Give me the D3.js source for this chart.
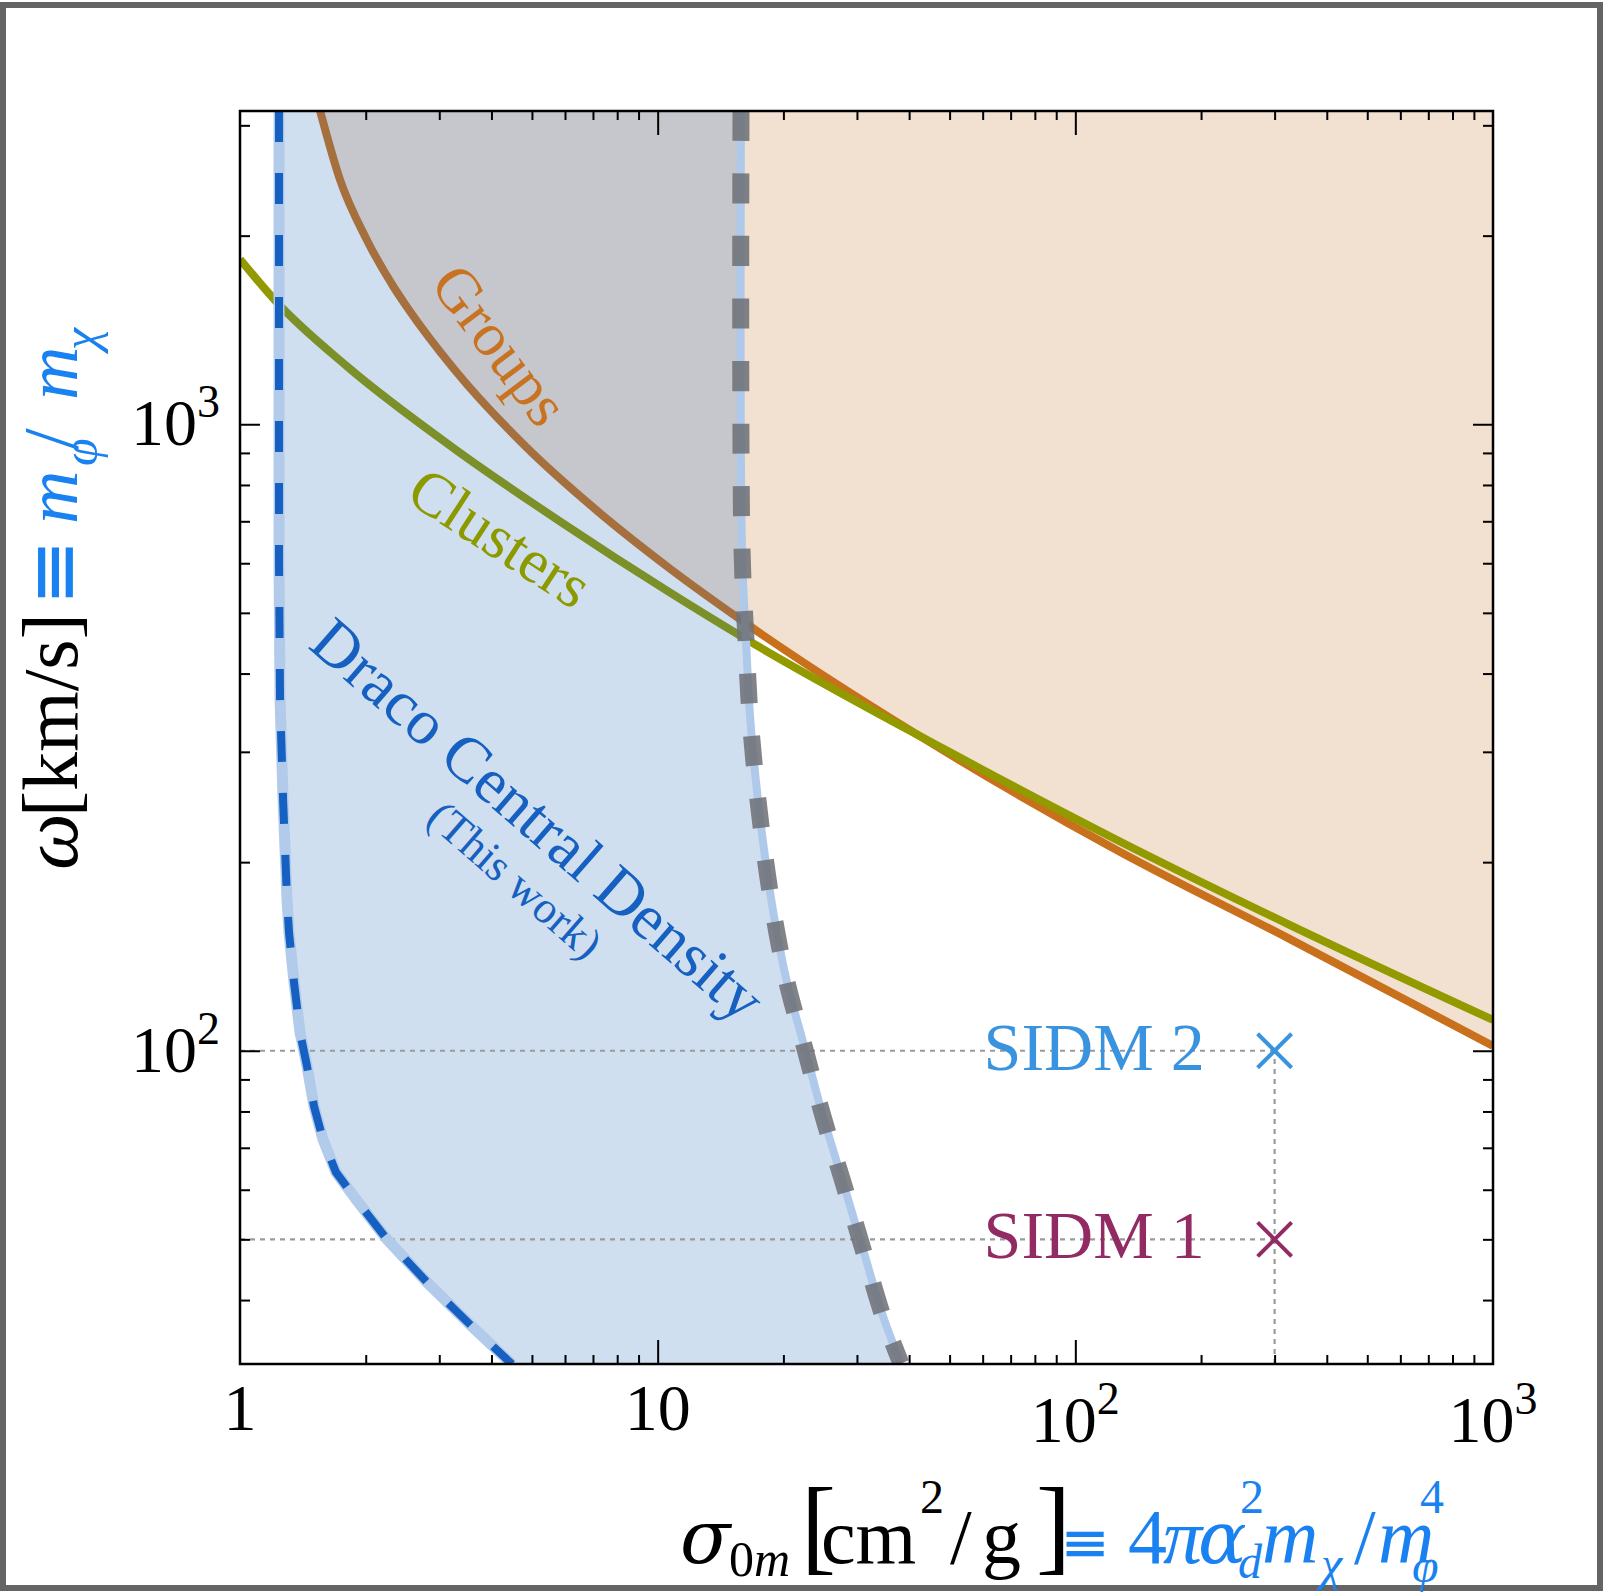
<!DOCTYPE html>
<html><head><meta charset="utf-8">
<script src="https://cdn.jsdelivr.net/npm/d3@7"></script>
<style>
html,body{margin:0;padding:0;background:#fff;}
svg{display:block;}
svg text{font-family:"Liberation Serif","Times New Roman",serif;}
</style></head>
<body>
<script>
// ---------------- data ----------------
const groupsX = [1.554, 1.735, 2.014, 2.337, 2.51, 3.253, 4.84, 7.155, 10.64, 16.27, 48.5, 125.8, 324.8, 1000];
const groupsY = [3170, 2459, 1967, 1653, 1539, 1225, 920, 728, 590, 481, 301, 209, 151, 101.8];

const clustersX = [1, 1.22, 1.804, 3.253, 5.87, 10.64, 16.27, 48.5, 125.8, 324.8, 1000];
const clustersY = [1834, 1570, 1237, 915, 698, 540, 454, 303, 217, 159, 112];

const dracoLowX = [1.24, 1.24, 1.247, 1.268, 1.296, 1.31, 1.347, 1.392, 1.447, 1.504, 1.58, 1.697, 1.896, 2.249, 2.804, 3.594, 4.48];
const dracoLowY = [3162, 600, 364, 252, 174.5, 154.6, 128.6, 107, 94.5, 81.5, 72.2, 64, 57.9, 50, 42.7, 36.3, 31.6];

const dracoHighX = [15.83, 15.92, 16.27, 16.64, 17.2, 17.97, 18.99, 20.4, 22.53, 24.88, 27.78, 31.02, 34.63, 38.24];
const dracoHighY = [3162, 631.6, 453.8, 342, 268.3, 209.7, 163.9, 128.6, 100.6, 78.6, 61.7, 48.2, 37.7, 31.7];

const sidmNames = ["SIDM 1", "SIDM 2"];
const sidmX = [300, 300];
const sidmY = [50, 100];

const xMajor = [1, 10, 100, 1000];
const xTickBase = ["1", "10", "10", "10"];
const xTickExp = ["", "", "2", "3"];
const yMajor = [100, 1000];
const yTickBase = ["10", "10"];
const yTickExp = ["2", "3"];

// ---------------- layout ----------------
const W = 1603, H = 1592;
const L = 240, R = 1493, T = 111, B = 1364;

const svg = d3.select("body").append("svg").attr("width", W).attr("height", H);

const x = d3.scaleLog().domain([1, 1000]).range([L, R]);
const y = d3.scaleLog().domain([Math.pow(10, 1.5), Math.pow(10, 3.5)]).range([B, T]);

const xMinor = [];
[1, 10, 100].forEach(d => { for (let k = 2; k <= 9; k++) xMinor.push(k * d); });
const yMinor = [40, 50, 60, 70, 80, 90, 200, 300, 400, 500, 600, 700, 800, 900, 2000, 3000];

// outer border
svg.append("rect").attr("x", 3).attr("y", 5).attr("width", 1597).attr("height", 1583)
  .attr("fill", "none").attr("stroke", "#646464").attr("stroke-width", 6);

svg.append("defs").append("clipPath").attr("id", "plotclip")
  .append("rect").attr("x", L).attr("y", T).attr("width", R - L).attr("height", B - T);

const g = svg.append("g").attr("clip-path", "url(#plotclip)");

const zip = (xs, ys) => xs.map((v, i) => [v, ys[i]]);
const groups = zip(groupsX, groupsY);
const clusters = zip(clustersX, clustersY);
const low = zip(dracoLowX, dracoLowY);
const high = zip(dracoHighX, dracoHighY);

const mono = d3.line().x(d => x(d[0])).y(d => y(d[1])).curve(d3.curveMonotoneX);
const smooth = d3.line().x(d => x(d[0])).y(d => y(d[1])).curve(d3.curveCatmullRom.alpha(0.5));
const lin = d3.line().x(d => x(d[0])).y(d => y(d[1]));

// peach excluded region (above Groups)
const peachPath = mono(groups) + "L" + x(1000) + "," + (T - 5) + "L" + x(groupsX[0]) + "," + (T - 5) + "Z";
g.append("path").attr("d", peachPath).attr("fill", "#f2e1d1");

// lines
g.append("path").attr("d", mono(groups)).attr("fill", "none").attr("stroke", "#c8701c").attr("stroke-width", 8);
g.append("path").attr("d", mono(clusters)).attr("fill", "none").attr("stroke", "#929a00").attr("stroke-width", 8);

// blue Draco band (semi-transparent)
const bandPath = lin(low) + smooth(high.slice().reverse()).replace(/^M/, "L") + "Z";
g.append("path").attr("d", bandPath).attr("fill", "rgb(41,110,187)").attr("fill-opacity", 0.22);

// dotted guide lines
function dl(x1, y1, x2, y2) {
  g.append("line").attr("x1", x1).attr("y1", y1).attr("x2", x2).attr("y2", y2)
    .attr("stroke", "#9a9a9a").attr("stroke-width", 2.2).attr("stroke-dasharray", "5 5");
}
sidmY.forEach((v, i) => dl(L, y(v), x(sidmX[i]), y(v)));
dl(x(sidmX[1]), B, x(sidmX[1]), y(sidmY[1]));

// boundaries
g.append("path").attr("d", lin(low)).attr("fill", "none").attr("stroke", "#b2cbeb").attr("stroke-width", 11);
g.append("path").attr("d", lin(low)).attr("fill", "none").attr("stroke", "#1560c0").attr("stroke-width", 8)
  .attr("stroke-dasharray", "31 31");
g.append("path").attr("d", smooth(high)).attr("fill", "none").attr("stroke", "#afc9ea").attr("stroke-width", 8);
g.append("path").attr("d", smooth(high)).attr("fill", "none").attr("stroke", "#6f7277").attr("stroke-opacity", 0.88)
  .attr("stroke-width", 17).attr("stroke-dasharray", "30 32.5");

// SIDM markers and labels
const sidmColors = ["#922a63", "#3a93de"];
sidmX.forEach((v, i) => {
  const cx = x(v), cy = y(sidmY[i]), s = 17;
  g.append("line").attr("x1", cx - s).attr("y1", cy - s).attr("x2", cx + s).attr("y2", cy + s)
    .attr("stroke", sidmColors[i]).attr("stroke-width", 4);
  g.append("line").attr("x1", cx - s).attr("y1", cy + s).attr("x2", cx + s).attr("y2", cy - s)
    .attr("stroke", sidmColors[i]).attr("stroke-width", 4);
  svg.append("text").attr("x", cx - 291).attr("y", cy + 19).attr("font-size", 68)
    .attr("fill", sidmColors[i]).text(sidmNames[i]);
});

// region labels
function rlabel(txt, cx, cy, ang, size, color) {
  svg.append("text").attr("transform", `translate(${cx},${cy}) rotate(${ang})`)
    .attr("text-anchor", "middle").attr("dy", "0.33em").attr("font-size", size)
    .attr("fill", color).text(txt);
}
rlabel("Groups", 500, 345, 53, 62, "#c87322");
rlabel("Clusters", 500, 538, 33, 62, "#8c9a00");
rlabel("Draco Central Density", 538, 820, 41, 64, "#1560c0");
rlabel("(This work)", 515, 880, 41, 45, "#1560c0");

// axes ticks
function axis(gen, tx, ty, vals, size) {
  const a = svg.append("g").attr("transform", `translate(${tx},${ty})`)
    .call(gen.tickValues(vals).tickSize(-size).tickSizeOuter(0).tickFormat(""));
  a.select(".domain").remove();
  a.selectAll("line").attr("stroke", "#000").attr("stroke-width", 2);
}
axis(d3.axisBottom(x), 0, B, xMajor.slice(1, 3), 24);
axis(d3.axisBottom(x), 0, B, xMinor, 9);
axis(d3.axisTop(x), 0, T, xMajor.slice(1, 3), 24);
axis(d3.axisTop(x), 0, T, xMinor, 9);
axis(d3.axisLeft(y), L, 0, yMajor, 20);
axis(d3.axisLeft(y), L, 0, yMinor, 10);
axis(d3.axisRight(y), R, 0, yMajor, 20);
axis(d3.axisRight(y), R, 0, yMinor, 10);

// frame
svg.append("rect").attr("x", L).attr("y", T).attr("width", R - L).attr("height", B - T)
  .attr("fill", "none").attr("stroke", "#000").attr("stroke-width", 2.5);

// tick labels
xMajor.forEach((v, i) => {
  const t = svg.append("text").attr("x", x(v)).attr("y", xTickExp[i] ? 1442 : 1430)
    .attr("text-anchor", "middle").attr("font-size", 66).attr("fill", "#000");
  t.append("tspan").text(xTickBase[i]);
  if (xTickExp[i]) t.append("tspan").attr("dy", -28).attr("font-size", 46).text(xTickExp[i]);
});
yMajor.forEach((v, i) => {
  const t = svg.append("text").attr("x", 220).attr("y", y(v) + 21)
    .attr("text-anchor", "end").attr("font-size", 66).attr("fill", "#000");
  t.append("tspan").text(yTickBase[i]);
  t.append("tspan").attr("dy", -28).attr("font-size", 46).text(yTickExp[i]);
});

// axis titles: one text element each, pieces placed with absolute tspans
const BLUE = "#1a82f0";
function title(parent, pieces) {
  const t = parent.append("text");
  pieces.forEach(p => {
    const s = t.append("tspan").attr("x", p[1]).attr("y", p[2]).attr("font-size", p[3])
      .attr("fill", p[4]).text(p[0]);
    if (p[5] === "i") s.attr("font-style", "italic");
    if (p[5] === "gi") s.attr("font-style", "italic").style("font-family", "'DejaVu Serif', serif");
  });
}
// "≡" fitted so its ink fills a given box (ink measured on a canvas with the same font)
function equiv(parent, bx, by, bw, bh) {
  const ctx = document.createElement("canvas").getContext("2d");
  ctx.font = "bold 100px 'DejaVu Sans'";
  const m = ctx.measureText("≡");
  let al = m.actualBoundingBoxLeft, ar = m.actualBoundingBoxRight;
  let aa = m.actualBoundingBoxAscent, ad = m.actualBoundingBoxDescent;
  if (!(ar + al > 1) || !(aa + ad > 1)) { al = -10; ar = 74; aa = 59; ad = -3; }
  const sx = bw / (al + ar), sy = bh / (aa + ad);
  const tx = bx + sx * al, ty = by + sy * aa;
  parent.append("text").attr("transform", `translate(${tx},${ty}) scale(${sx},${sy})`)
    .style("font-family", "'DejaVu Sans', sans-serif").style("font-weight", "bold")
    .attr("font-size", 100).attr("fill", BLUE).text("≡");
}
const K = "#000";
title(svg, [
  ["σ", 680, 1563, 74, K, "gi"],
  ["0", 729, 1576, 50, K, ""],
  ["m", 754, 1576, 50, K, "i"],
  ["[", 801, 1561, 105, K, ""],
  ["cm", 821, 1563, 78, K, ""],
  ["2", 920, 1513, 48, K, ""],
  ["/", 950, 1563, 78, K, ""],
  ["g", 982, 1563, 78, K, ""],
  ["]", 1036, 1561, 105, K, ""],
  ["4", 1128, 1563, 78, BLUE, ""],
  ["π", 1163, 1563, 78, BLUE, "i"],
  ["α", 1198, 1563, 72, BLUE, "gi"],
  ["2", 1240, 1513, 48, BLUE, ""],
  ["d", 1238, 1578, 48, BLUE, "i"],
  ["m", 1262, 1563, 78, BLUE, "i"],
  ["χ", 1321, 1580, 48, BLUE, "i"],
  ["/", 1354, 1563, 78, BLUE, ""],
  ["m", 1378, 1563, 78, BLUE, "i"],
  ["4", 1420, 1513, 48, BLUE, ""],
  ["φ", 1412, 1582, 48, BLUE, "i"]
]);
equiv(svg, 1066, 1532, 38, 25);

const yt = svg.append("g").attr("transform", "translate(77,0) rotate(-90)");
title(yt, [
  ["ω", -870, 0, 80, K, "i"],
  ["[km/s]", -817, 0, 78, K, ""],
  ["m", -524, 0, 74, BLUE, "i"],
  ["φ", -466, 20, 50, BLUE, "i"],
  ["/", -450, 0, 78, BLUE, ""],
  ["m", -400, 0, 74, BLUE, "i"],
  ["χ", -350, 20, 50, BLUE, "i"]
]);
equiv(yt, -598, -39, 51, 35);
</script>
</body></html>
